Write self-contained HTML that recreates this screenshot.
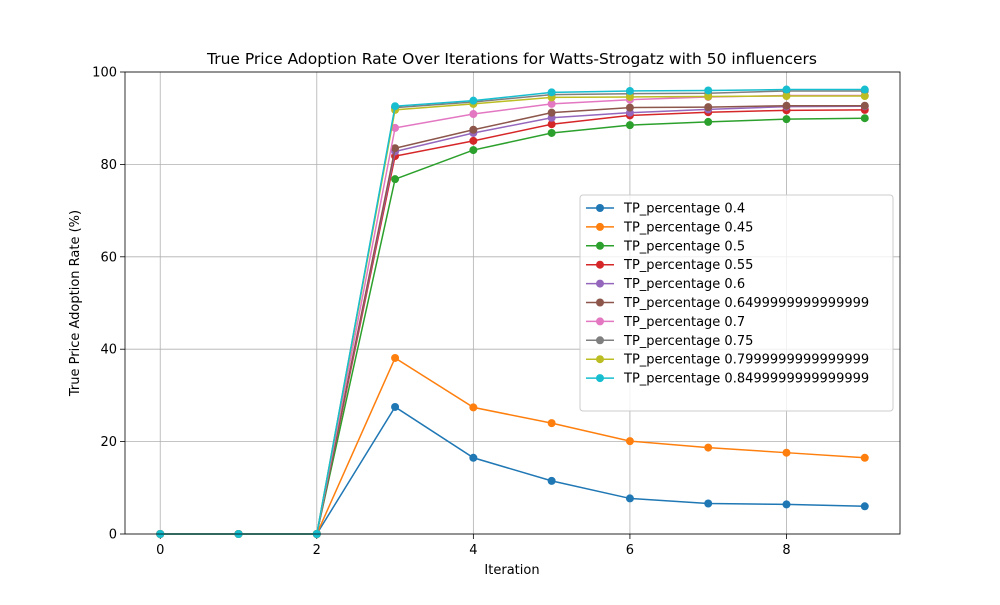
<!DOCTYPE html>
<html><head><meta charset="utf-8"><style>
body{margin:0;background:#fff;font-family:"Liberation Sans","DejaVu Sans",sans-serif}
svg text{font-family:"DejaVu Sans","Liberation Sans",sans-serif}
</style></head><body>
<svg id="chart" width="1000" height="600" xmlns="http://www.w3.org/2000/svg"></svg>
<script>
const iterations=[0,1,2,3,4,5,6,7,8,9];
const seriesLabels=["TP_percentage 0.4","TP_percentage 0.45","TP_percentage 0.5","TP_percentage 0.55","TP_percentage 0.6","TP_percentage 0.6499999999999999","TP_percentage 0.7","TP_percentage 0.75","TP_percentage 0.7999999999999999","TP_percentage 0.8499999999999999"];
const s04=[0,0,0,27.5,16.5,11.5,7.7,6.6,6.4,6.0];
const s045=[0,0,0,38.1,27.4,24.0,20.1,18.7,17.6,16.5];
const s05=[0,0,0,76.8,83.1,86.8,88.5,89.2,89.8,90.0];
const s055=[0,0,0,81.8,85.1,88.7,90.6,91.3,91.7,91.8];
const s06=[0,0,0,82.8,86.8,90.1,91.2,91.9,92.5,92.6];
const s065=[0,0,0,83.5,87.5,91.2,92.3,92.4,92.7,92.7];
const s07=[0,0,0,87.9,90.9,93.1,94.0,94.6,94.9,94.9];
const s075=[0,0,0,92.3,93.5,95.1,95.3,95.4,95.9,95.9];
const s08=[0,0,0,91.8,93.1,94.5,94.6,94.7,94.8,94.8];
const s085=[0,0,0,92.6,93.8,95.6,95.9,96.0,96.2,96.2];
const seriesValues=[s04,s045,s05,s055,s06,s065,s07,s075,s08,s085];
const xTicks=[0,2,4,6,8];
const yTicks=[0,20,40,60,80,100];
const colors=["#1f77b4","#ff7f0e","#2ca02c","#d62728","#9467bd","#8c564b","#e377c2","#7f7f7f","#bcbd22","#17becf"];
const L=125,R=900,T=72,B=534;
const xs=v=>L+(v+0.45)/9.9*(R-L);
const ys=v=>B-v/100*(B-T);
const svg=document.getElementById('chart');
const NS="http://www.w3.org/2000/svg";
function mk(tag,attrs,parent){const e=document.createElementNS(NS,tag);for(const k in attrs)e.setAttribute(k,attrs[k]);(parent||svg).appendChild(e);return e;}
const grid=mk('g',{});


xTicks.forEach(t=>{const x=xs(t);
 mk('line',{x1:x,x2:x,y1:T,y2:B,stroke:'#b0b0b0','stroke-width':0.8},grid);
 mk('line',{x1:x,x2:x,y1:B,y2:B+5,stroke:'#000','stroke-width':0.8});
 const tx=mk('text',{x:x,y:B+20,'text-anchor':'middle','font-size':13});tx.textContent=t;
 
 
});
yTicks.forEach(t=>{const y=ys(t);
 mk('line',{x1:L,x2:R,y1:y,y2:y,stroke:'#b0b0b0','stroke-width':0.8},grid);
 mk('line',{x1:L-5,x2:L,y1:y,y2:y,stroke:'#000','stroke-width':0.8});
 const tx=mk('text',{x:L-8,y:y+4.5,'text-anchor':'end','font-size':13});tx.textContent=t;
 
 
});
seriesValues.forEach((vals,i)=>{
 const g=mk('g',{});
 
 
 mk('polyline',{points:vals.map((v,j)=>xs(iterations[j])+','+ys(v)).join(' '),fill:'none',stroke:colors[i],'stroke-width':1.5},g);
 vals.forEach((v,j)=>{const c=mk('circle',{cx:xs(iterations[j]),cy:ys(v),r:4,fill:colors[i]},g);
  
  });
});
const frame=mk('rect',{x:L,y:T,width:R-L,height:B-T,fill:'none',stroke:'#000','stroke-width':0.8});


const title=mk('text',{x:512,y:64,'text-anchor':'middle','font-size':15.5});title.textContent='True Price Adoption Rate Over Iterations for Watts-Strogatz with 50 influencers';


const xl=mk('text',{x:512,y:574,'text-anchor':'middle','font-size':13});xl.textContent='Iteration';


const yl=mk('text',{x:0,y:0,'text-anchor':'middle','font-size':13,transform:'translate(79,303) rotate(-90)'});yl.textContent='True Price Adoption Rate (%)';


const lg=mk('g',{});


mk('rect',{x:580,y:195,width:313,height:216,rx:3,fill:'#fff','fill-opacity':0.8,stroke:'#ccc'},lg);
seriesLabels.forEach((s,i)=>{const y=208+i*18.9;
 const e=mk('g',{},lg);
 
 
 mk('line',{x1:586,x2:614,y1:y,y2:y,stroke:colors[i],'stroke-width':1.5},e);
 mk('circle',{cx:600,cy:y,r:4,fill:colors[i]},e);
 const t=mk('text',{x:624,y:y+4.5,'font-size':13},e);t.textContent=s;});
</script>
</body></html>
